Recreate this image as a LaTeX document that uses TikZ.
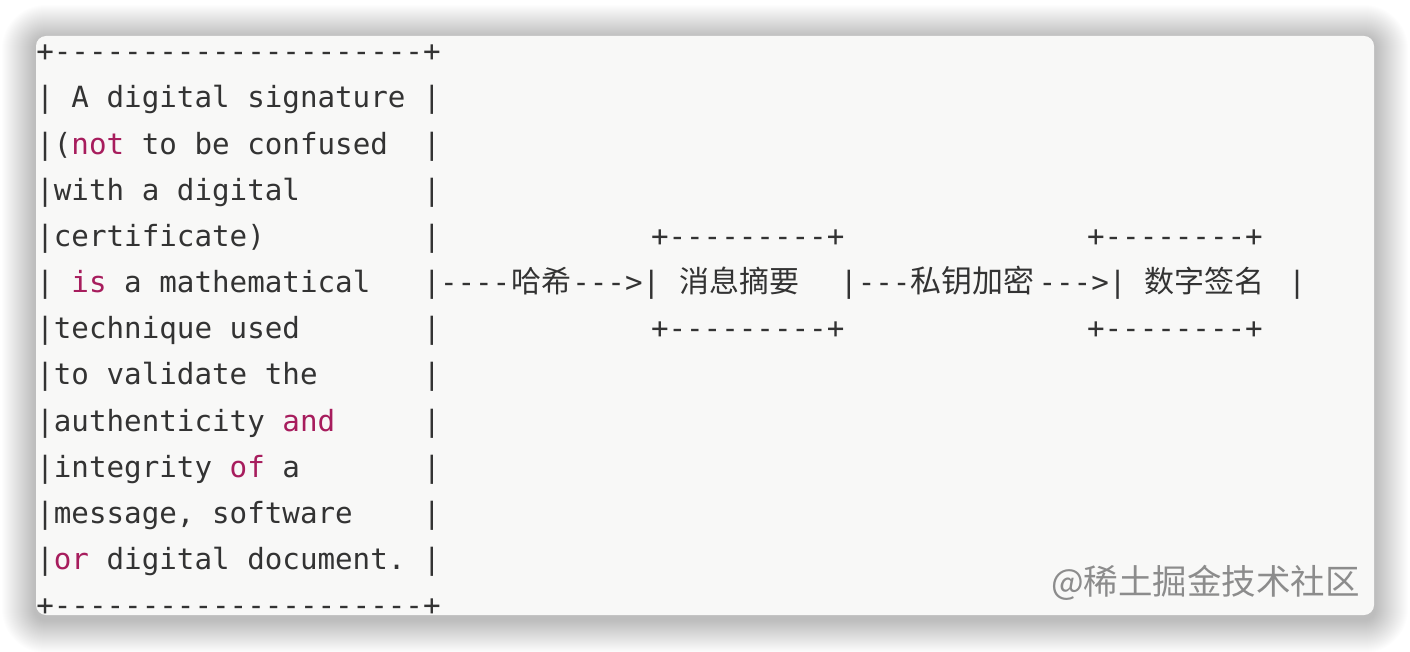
\documentclass[tikz,border=0pt]{standalone}
\usepackage{fontspec}
\setmonofont{DejaVu Sans Mono}
\newfontfamily\cjkfont{Noto Sans CJK SC}
\usetikzlibrary{positioning}

\definecolor{codefg}{HTML}{333333}
\definecolor{codekw}{HTML}{A71D5D}
\definecolor{codebg}{HTML}{F8F8F7}
\definecolor{markgray}{HTML}{8C8C8C}

\newcommand{\kw}[1]{\textcolor{codekw}{#1}}
\newcommand{\zh}[2][30pt]{{\cjkfont\fontsize{#1}{#1}\selectfont #2}}

\tikzstyle{codeline} = [
    inner sep=0pt,
    outer sep=0pt,
    text height=22pt,
    text depth=6pt,
    text=codefg,
    font=\ttfamily\fontsize{29.2pt}{35pt}\selectfont
]
\tikzstyle{codebit} = [
    codeline,
    anchor=base west
]
\tikzstyle{watermark} = [
    inner sep=0pt,
    anchor=base east,
    text=markgray,
    font=\cjkfont\fontsize{34.5pt}{34.5pt}\selectfont
]

\begin{document}
\begin{tikzpicture}[x=1pt, y=-1pt]
\useasboundingbox (0,0) rectangle (1410,652);

% card with soft shadow
\foreach \s [evaluate=\s as \r using 10+\s] in {1,...,34}
    \fill[black, opacity=0.006, rounded corners=\r pt]
        (36-\s,39-\s) rectangle (1374+\s,619+\s);
\fill[codebg, rounded corners=10pt] (36,36) rectangle (1374,615);

% left box
\node (line0) [codeline] at (238.5,53.8) {+---------------------+};
\node (line1) [codeline, below=18.17pt of line0] {|~A~digital~signature~|};
\node (line2) [codeline, below=18.17pt of line1] {|(\kw{not}~to~be~confused~~|};
\node (line3) [codeline, below=18.17pt of line2] {|with~a~digital~~~~~~~|};
\node (line4) [codeline, below=18.17pt of line3] {|certificate)~~~~~~~~~|};
\node (line5) [codeline, below=18.17pt of line4] {|~\kw{is}~a~mathematical~~~|};
\node (line6) [codeline, below=18.17pt of line5] {|technique~used~~~~~~~|};
\node (line7) [codeline, below=18.17pt of line6] {|to~validate~the~~~~~~|};
\node (line8) [codeline, below=18.17pt of line7] {|authenticity~\kw{and}~~~~~|};
\node (line9) [codeline, below=18.17pt of line8] {|integrity~\kw{of}~a~~~~~~~|};
\node (line10) [codeline, below=18.17pt of line9] {|message,~software~~~~|};
\node (line11) [codeline, below=18.17pt of line10] {|\kw{or}~digital~document.~|};
\node (line12) [codeline, below=18.17pt of line11] {+---------------------+};

% hash -> digest -> sign
\node (dashA) [codebit] at (440,292.7) {----};
\node (hash) [codeline, right=1pt of dashA] {\zh{哈希}};
\node (arrA) [codeline, right=1pt of hash] {--->|};
\node (digest) [codeline, right=19pt of arrA] {\zh{消息摘要}};
\node (digestR) [codeline, right=41pt of digest] {|---};
\node (encrypt) [codeline, right=0pt of digestR] {\zh[31pt]{私钥加密}};
\node (arrB) [codeline, right=4pt of encrypt] {--->|};
\node (dsig) [codeline, right=18pt of arrB] {\zh{数字签名}};
\node (dsigR) [codeline, right=24pt of dsig] {|};

\node (digestTop) [codebit] at (651,246.5) {+---------+};
\node (digestBot) [codebit] at (651,338.8) {+---------+};
\node (dsigTop) [codebit] at (1087,246.5) {+--------+};
\node (dsigBot) [codebit] at (1087,338.8) {+--------+};

\node (mark) [watermark] at (1360,594) {@稀土掘金技术社区};

\end{tikzpicture}
\end{document}
